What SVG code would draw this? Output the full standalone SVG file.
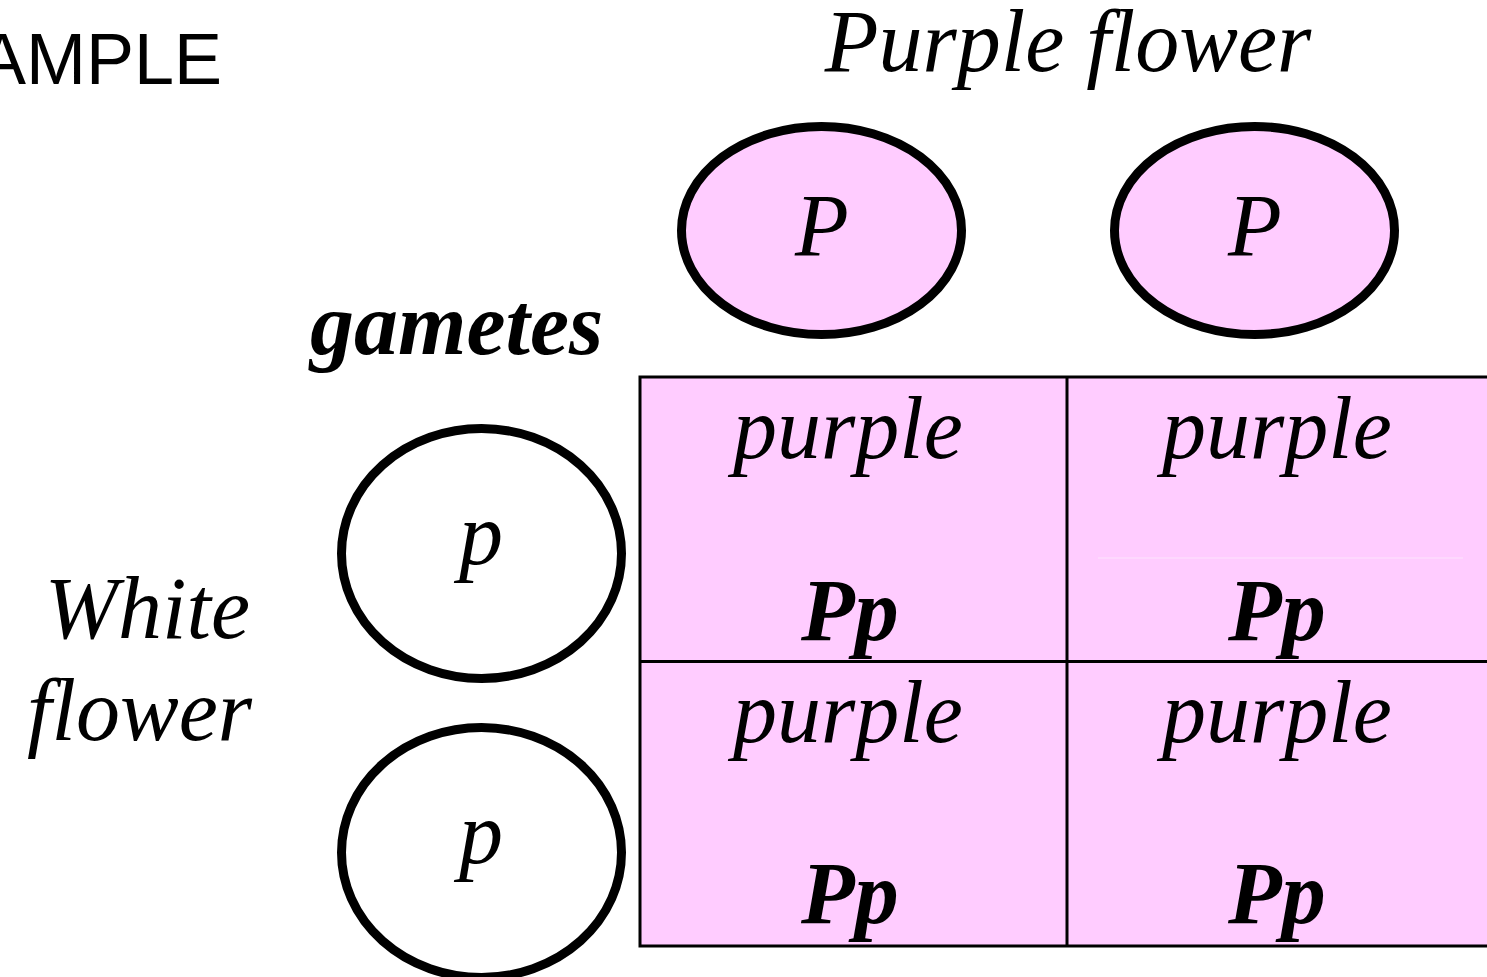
<svg xmlns="http://www.w3.org/2000/svg" width="1487" height="977" viewBox="0 0 1487 977">
<style>
.t{font-family:"Liberation Serif","Times New Roman",serif;font-size:88px;font-style:italic;fill:#000}
.b{font-weight:bold}
.m{text-anchor:middle}
.gam{fill:#ffccff;stroke:#000;stroke-width:9}
.gaw{fill:#fff;stroke:#000;stroke-width:9}
.cell{fill:#ffccff;stroke:#000;stroke-width:3}
</style>
<rect width="1487" height="977" fill="#fff"/>
<text id="title" x="222" y="84" text-anchor="end" font-family="Liberation Sans, Arial, sans-serif" font-size="72" fill="#000">AMPLE</text>
<text id="purple-flower" class="t m" x="1068" y="71" font-size="89">Purple flower</text>
<text id="gametes" class="t b" x="310" y="354" font-size="89">gametes</text>
<g id="white-flower">
<text class="t" x="250" y="638" text-anchor="end">White</text>
<text class="t" x="252" y="740" text-anchor="end">flower</text>
</g>
<g id="gamete-P1"><ellipse class="gam" cx="821.5" cy="230.5" rx="140" ry="104"/><text class="t m" x="822" y="255">P</text></g>
<g id="gamete-P2"><ellipse class="gam" cx="1254.5" cy="230.5" rx="140" ry="104"/><text class="t m" x="1255" y="255">P</text></g>
<g id="gamete-p1"><ellipse class="gaw" cx="481.5" cy="553.5" rx="140" ry="125"/><text class="t m" x="481" y="564">p</text></g>
<g id="gamete-p2"><ellipse class="gaw" cx="481.5" cy="852.5" rx="140" ry="125"/><text class="t m" x="481" y="863">p</text></g>
<g id="connectors">
<rect class="cell" x="640" y="377" width="860" height="569"/>
<line x1="1067" y1="377" x2="1067" y2="946" stroke="#000" stroke-width="3"/>
<line x1="640" y1="661.5" x2="1500" y2="661.5" stroke="#000" stroke-width="3"/>
<line x1="1098" y1="558" x2="1463" y2="558" stroke="#fde4fd" stroke-width="1"/>
</g>
<g id="cell-11"><text class="t m" x="848" y="458">purple</text><text class="t b m" x="850" y="640">Pp</text></g>
<g id="cell-12"><text class="t m" x="1277" y="458">purple</text><text class="t b m" x="1277" y="640">Pp</text></g>
<g id="cell-21"><text class="t m" x="848" y="742">purple</text><text class="t b m" x="850" y="923">Pp</text></g>
<g id="cell-22"><text class="t m" x="1277" y="742">purple</text><text class="t b m" x="1277" y="923">Pp</text></g>
</svg>
